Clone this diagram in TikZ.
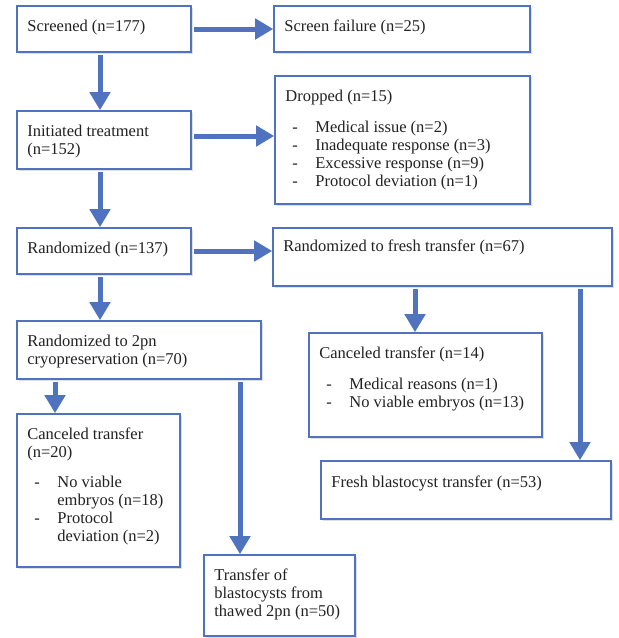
\documentclass[tikz,border=0pt]{standalone}
\usepackage{fontspec}
\setmainfont{Liberation Serif}
\usetikzlibrary{arrows.meta,shadows}
\definecolor{flowblue}{RGB}{79,115,190}
\definecolor{txtcol}{RGB}{34,34,34}
\begin{document}
\begin{tikzpicture}[x=1pt,y=-1pt,
  box/.style={draw=flowblue, line width=1.6pt, fill=white, inner sep=0pt,
    drop shadow={shadow xshift=1.5pt, shadow yshift=-1.5pt, opacity=0.25}},
  txt/.style={anchor=base west, inner sep=0pt, text=txtcol,
    font=\fontsize{16.5pt}{18pt}\selectfont},
  arr/.style={draw=flowblue, line width=5pt, shorten <=2pt,
    -{Triangle[width=20pt,length=18pt]}}]
\useasboundingbox (0,0) rectangle (619,638);
\newcommand{\itm}[1]{\hspace*{7pt}\makebox[23pt][l]{-}#1}
\newcommand{\cnt}[1]{\hspace*{30pt}#1}
\newcommand{\tb}[1]{\begin{tabular}[t]{@{}l@{}}#1\end{tabular}}

% boxes
\node[box, minimum width=174pt, minimum height=46pt] (scr) at (104,29) {};
\node[box, minimum width=256pt, minimum height=46pt] (sf) at (402,29) {};
\node[box, minimum width=174pt, minimum height=58pt] (init) at (104,140) {};
\node[box, minimum width=255pt, minimum height=128pt] (drop) at (402.5,140) {};
\node[box, minimum width=174pt, minimum height=46pt] (rand) at (104,251) {};
\node[box, minimum width=339pt, minimum height=58pt] (fresh) at (442.5,257) {};
\node[box, minimum width=244pt, minimum height=58pt] (cryo) at (139,350) {};
\node[box, minimum width=163pt, minimum height=153pt] (can20) at (98.5,490.5) {};
\node[box, minimum width=151pt, minimum height=81pt] (thaw) at (279.5,595.5) {};
\node[box, minimum width=233pt, minimum height=104pt] (can14) at (425.5,385) {};
\node[box, minimum width=290pt, minimum height=58pt] (fb) at (466,490) {};

% texts
\node[txt] (tscr) at ([shift={(11pt,-26pt)}]scr.north west) {Screened (n=177)};
\node[txt] (tsf) at ([shift={(11pt,-26pt)}]sf.north west) {Screen failure (n=25)};
\node[txt] (tinit) at ([shift={(11pt,-26pt)}]init.north west) {\tb{Initiated treatment\\(n=152)}};
\node[txt] (tdrop) at ([shift={(11pt,-26pt)}]drop.north west) {\tb{Dropped (n=15)\\[13pt]
  \itm{Medical issue (n=2)}\\
  \itm{Inadequate response (n=3)}\\
  \itm{Excessive response (n=9)}\\
  \itm{Protocol deviation (n=1)}}};
\node[txt] (trand) at ([shift={(11pt,-26pt)}]rand.north west) {Randomized (n=137)};
\node[txt] (tfresh) at ([shift={(11pt,-24pt)}]fresh.north west) {Randomized to fresh transfer (n=67)};
\node[txt] (tcryo) at ([shift={(11pt,-26pt)}]cryo.north west) {\tb{Randomized to 2pn\\cryopreservation (n=70)}};
\node[txt] (tcan20) at ([shift={(11pt,-26pt)}]can20.north west) {\tb{Canceled transfer\\(n=20)\\[12pt]
  \itm{No viable}\\
  \cnt{embryos (n=18)}\\
  \itm{Protocol}\\
  \cnt{deviation (n=2)}}};
\node[txt] (tthaw) at ([shift={(11pt,-26pt)}]thaw.north west) {\tb{Transfer of\\blastocysts from\\thawed 2pn (n=50)}};
\node[txt] (tcan14) at ([shift={(11pt,-26pt)}]can14.north west) {\tb{Canceled transfer (n=14)\\[13pt]
  \itm{Medical reasons (n=1)}\\
  \itm{No viable embryos (n=13)}}};
\node[txt] (tfb) at ([shift={(11pt,-27pt)}]fb.north west) {Fresh blastocyst transfer (n=53)};

% connectors
\coordinate (c1) at ([xshift=-4pt]scr.south);
\coordinate (c2) at ([xshift=-4pt]init.south);
\coordinate (c3) at ([xshift=-4pt]rand.south);
\coordinate (c4) at ([xshift=-43.5pt]can20.north);
\coordinate (c5) at ([xshift=-39.5pt]thaw.north);
\coordinate (c6) at ([xshift=-10.5pt]can14.north);
\coordinate (c7) at ([xshift=114pt]fb.north);
\coordinate (c8) at ([yshift=4pt]init.east);

\draw[arr] (scr.east) -- (sf.west);
\draw[arr] (c8) -- (c8 -| drop.west);
\draw[arr] (rand.east) -- (rand.east -| fresh.west);
\draw[arr] (c1) -- (c1 |- init.north);
\draw[arr] (c2) -- (c2 |- rand.north);
\draw[arr] (c3) -- (c3 |- cryo.north);
\draw[arr] (c4 |- cryo.south) -- (c4);
\draw[arr] (c5 |- cryo.south) -- (c5);
\draw[arr] (c6 |- fresh.south) -- (c6);
\draw[arr] (c7 |- fresh.south) -- (c7);
\end{tikzpicture}
\end{document}
